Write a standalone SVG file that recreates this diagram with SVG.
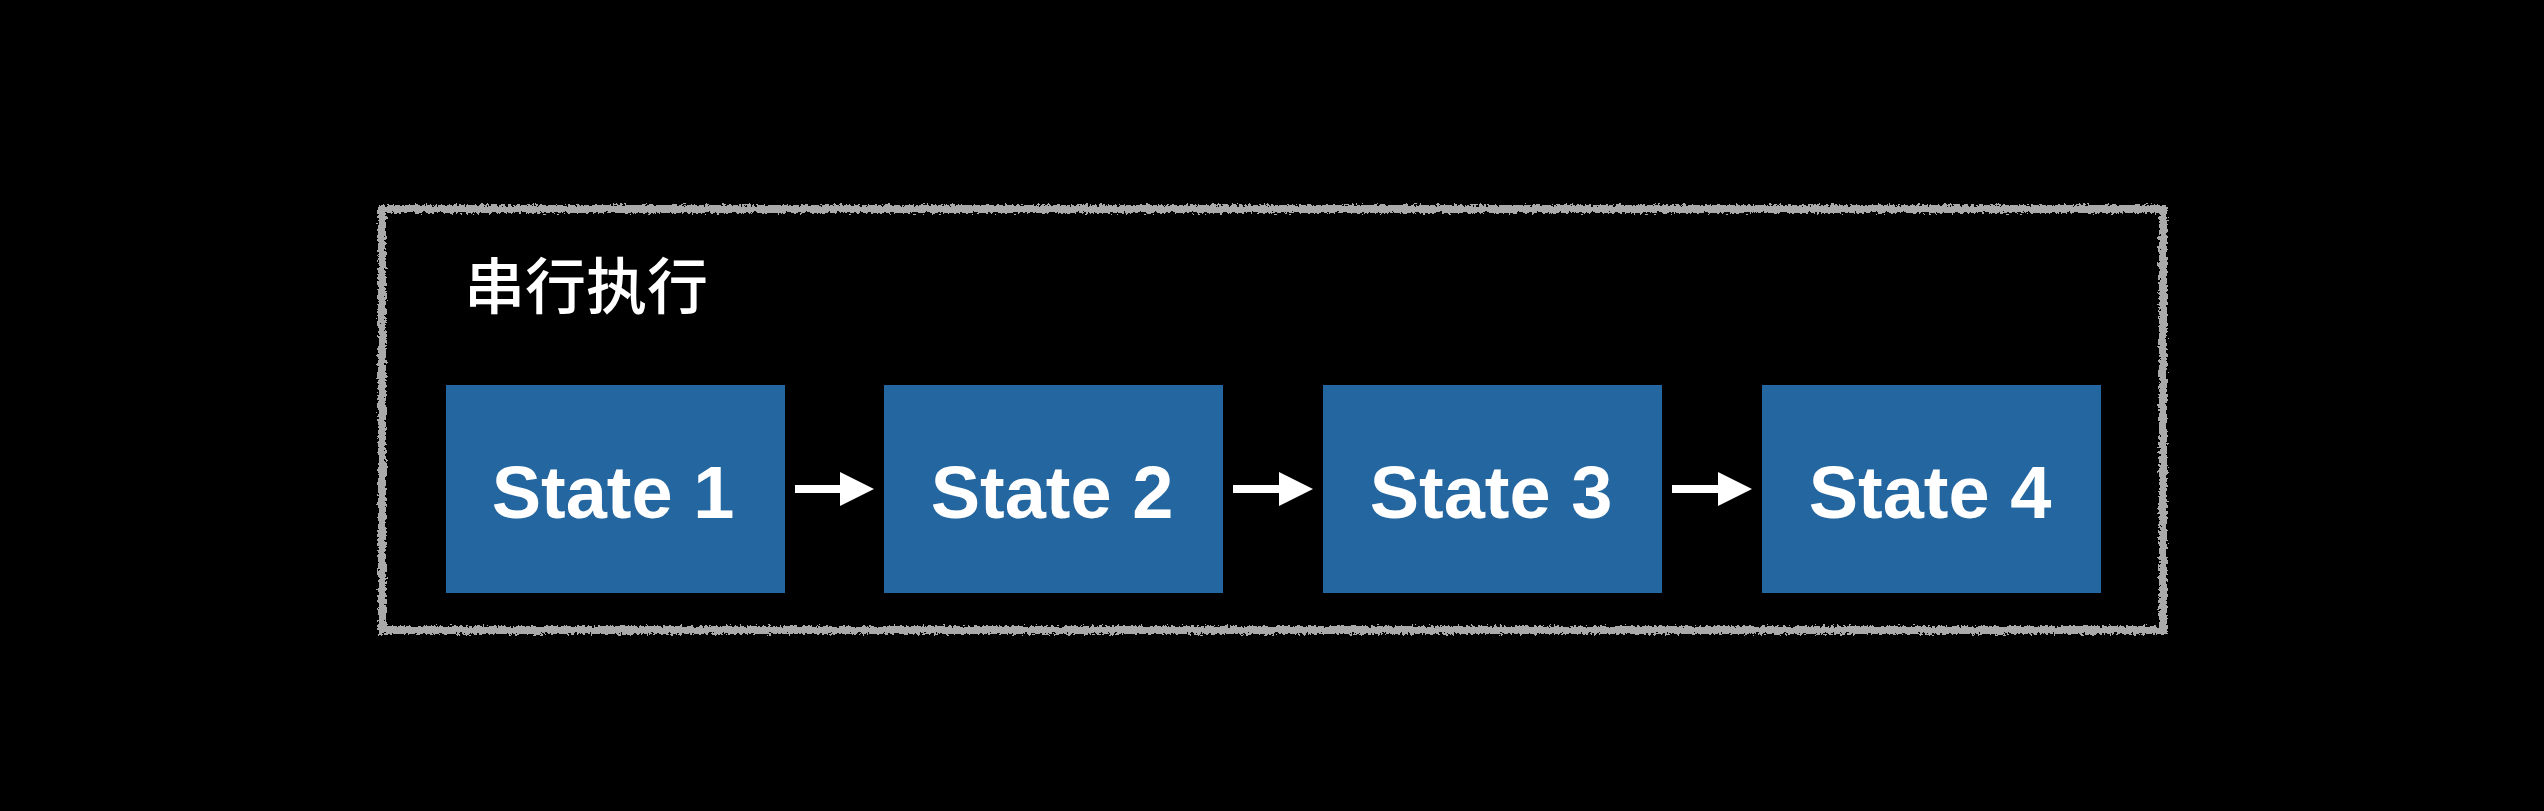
<svg xmlns="http://www.w3.org/2000/svg" width="2544" height="811" viewBox="0 0 2544 811">
  <defs>
    <filter id="rough" x="-5%" y="-5%" width="110%" height="110%">
      <feTurbulence type="fractalNoise" baseFrequency="0.35" numOctaves="2" seed="3" result="n"/>
      <feDisplacementMap in="SourceGraphic" in2="n" scale="7" xChannelSelector="R" yChannelSelector="G"/>
    </filter>
    <marker id="ah" markerUnits="userSpaceOnUse" markerWidth="34" markerHeight="34" refX="0" refY="17" orient="auto" viewBox="0 0 34 34">
      <path d="M0,0 L34,17 L0,34 Z" fill="#ffffff"/>
    </marker>
  </defs>
  <style>
    .state rect { fill: #24669f; }
    .state text { fill: #ffffff; font-family: "Liberation Sans", Arial, sans-serif; font-weight: bold; font-size: 74px; text-anchor: middle; }
    .title { fill: #ffffff; font-family: "Noto Sans CJK SC", sans-serif; font-weight: 500; font-size: 61px; }
    .conn line { stroke: #ffffff; stroke-width: 8; marker-end: url(#ah); }
  </style>
  <rect x="0" y="0" width="2544" height="811" fill="#000000"/>
  <g id="frame">
    <rect x="382" y="209" width="1781" height="421" fill="none" stroke="#aaaaaa" stroke-width="8" filter="url(#rough)"/>
    <text class="title" x="464" y="309">串行执行</text>
  </g>
  <g id="state1" class="state">
    <rect x="446" y="385" width="339" height="208"/>
    <text x="613" y="518">State 1</text>
  </g>
  <g id="state2" class="state">
    <rect x="884" y="385" width="339" height="208"/>
    <text x="1052" y="518">State 2</text>
  </g>
  <g id="state3" class="state">
    <rect x="1323" y="385" width="339" height="208"/>
    <text x="1491" y="518">State 3</text>
  </g>
  <g id="state4" class="state">
    <rect x="1762" y="385" width="339" height="208"/>
    <text x="1930" y="518">State 4</text>
  </g>
  <g id="connectors" class="conn">
    <line x1="795" y1="489" x2="840" y2="489"/>
    <line x1="1233" y1="489" x2="1279" y2="489"/>
    <line x1="1672" y1="489" x2="1718" y2="489"/>
  </g>
</svg>
